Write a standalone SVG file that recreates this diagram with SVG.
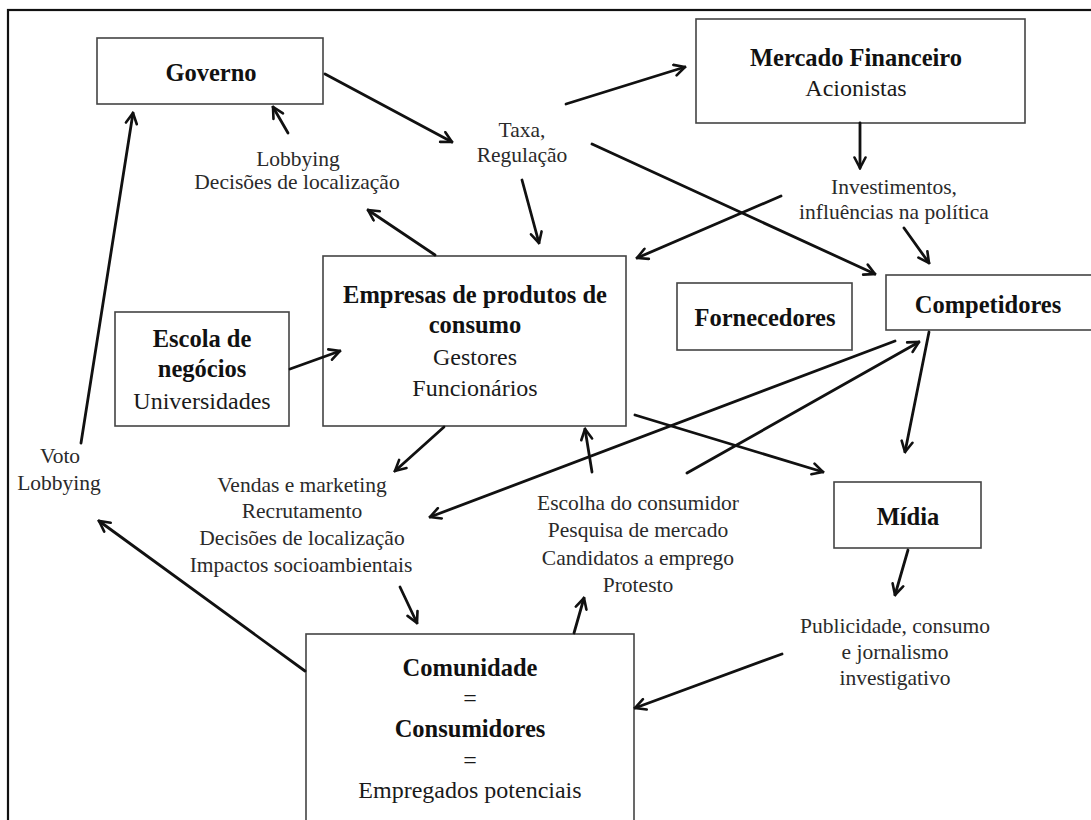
<svg xmlns="http://www.w3.org/2000/svg" width="1091" height="820" viewBox="0 0 1091 820">
  <style>
    .frame { fill: none; stroke: #111; stroke-width: 2.2; }
    .box { fill: #fff; stroke: #444; stroke-width: 1.6; }
    .t { font-family: "Liberation Serif", "Times New Roman", serif; text-anchor: middle; fill: #1a1a1a; }
    .b { font-weight: bold; font-size: 24.5px; fill: #111; }
    .r { font-size: 24px; }
    .lbl { font-size: 21.5px; fill: #2a2a2a; }
    .c { fill: none; stroke: #111; stroke-width: 2.8; stroke-linecap: round; marker-end: url(#ah); }
  </style>
  <defs>
    <marker id="ah" viewBox="0 0 14 14" refX="12.5" refY="7" markerWidth="14" markerHeight="14" markerUnits="userSpaceOnUse" orient="auto">
      <path d="M2,1.5 L12.5,7 L2,12.5" fill="none" stroke="#111" stroke-width="2.6" stroke-linecap="round" stroke-linejoin="miter"/>
    </marker>
  </defs>

  <rect width="1091" height="820" fill="#fff"/>
  <!-- outer frame, open to the right and bottom -->
  <rect class="frame" x="8" y="10" width="1100" height="830"/>

  <!-- nodes -->
  <g id="governo">
    <rect class="box" x="97" y="38" width="226" height="66"/>
    <text class="t b" x="211" y="81">Governo</text>
  </g>
  <g id="mercado-financeiro">
    <rect class="box" x="696" y="19" width="329" height="104"/>
    <text class="t b" x="856" y="66" font-size="25.5">Mercado Financeiro</text>
    <text class="t r" x="856" y="96">Acionistas</text>
  </g>
  <g id="empresas">
    <rect class="box" x="323" y="256" width="303" height="170"/>
    <text class="t b" x="475" y="303">Empresas de produtos de</text>
    <text class="t b" x="475" y="333">consumo</text>
    <text class="t r" x="475" y="365">Gestores</text>
    <text class="t r" x="475" y="396">Funcionários</text>
  </g>
  <g id="escola">
    <rect class="box" x="115" y="312" width="174" height="114"/>
    <text class="t b" x="202" y="347">Escola de</text>
    <text class="t b" x="202" y="377">negócios</text>
    <text class="t r" x="202" y="409">Universidades</text>
  </g>
  <g id="fornecedores">
    <rect class="box" x="677" y="283" width="175" height="67"/>
    <text class="t b" x="765" y="326">Fornecedores</text>
  </g>
  <g id="competidores">
    <rect class="box" x="886" y="275" width="220" height="55"/>
    <text class="t b" x="988" y="313">Competidores</text>
  </g>
  <g id="midia">
    <rect class="box" x="834" y="482" width="147" height="66"/>
    <text class="t b" x="908" y="525">Mídia</text>
  </g>
  <g id="comunidade">
    <rect class="box" x="306" y="634" width="328" height="200"/>
    <text class="t b" x="470" y="676">Comunidade</text>
    <text class="t r" x="470" y="706">=</text>
    <text class="t b" x="470" y="737">Consumidores</text>
    <text class="t r" x="470" y="768">=</text>
    <text class="t r" x="470" y="798">Empregados potenciais</text>
  </g>

  <!-- flow labels -->
  <g id="labels">
    <text class="t lbl" x="298" y="166">Lobbying</text>
    <text class="t lbl" x="297" y="189">Decisões de localização</text>
    <text class="t lbl" x="522" y="137">Taxa,</text>
    <text class="t lbl" x="522" y="162">Regulação</text>
    <text class="t lbl" x="894" y="194">Investimentos,</text>
    <text class="t lbl" x="894" y="219">influências na política</text>
    <text class="t lbl" x="60" y="463">Voto</text>
    <text class="t lbl" x="59" y="490">Lobbying</text>
    <text class="t lbl" x="302" y="492">Vendas e marketing</text>
    <text class="t lbl" x="302" y="518">Recrutamento</text>
    <text class="t lbl" x="302" y="545">Decisões de localização</text>
    <text class="t lbl" x="301" y="572">Impactos socioambientais</text>
    <text class="t lbl" x="638" y="510">Escolha do consumidor</text>
    <text class="t lbl" x="638" y="537">Pesquisa de mercado</text>
    <text class="t lbl" x="638" y="565">Candidatos a emprego</text>
    <text class="t lbl" x="638" y="592">Protesto</text>
    <text class="t lbl" x="895" y="633">Publicidade, consumo</text>
    <text class="t lbl" x="895" y="659">e jornalismo</text>
    <text class="t lbl" x="895" y="685">investigativo</text>
  </g>

  <!-- connectors -->
  <g id="connectors">
    <path class="c" d="M325,74 L452,142"/>
    <path class="c" d="M566,104 L685,67"/>
    <path class="c" d="M592,144 L875,274"/>
    <path class="c" d="M522,180 L539,243"/>
    <path class="c" d="M435,255 L368,210"/>
    <path class="c" d="M288,133 L273,107"/>
    <path class="c" d="M860,123 L860,168"/>
    <path class="c" d="M781,196 L637,258"/>
    <path class="c" d="M904,228 L929,263"/>
    <path class="c" d="M290,369 L340,351"/>
    <path class="c" d="M444,427 L395,471"/>
    <path class="c" d="M592,472 L585,429"/>
    <path class="c" d="M635,415 L823,472"/>
    <path class="c" d="M895,341 L430,517"/>
    <path class="c" d="M687,473 L919,342"/>
    <path class="c" d="M929,332 L905,452"/>
    <path class="c" d="M908,550 L895,595"/>
    <path class="c" d="M782,654 L635,708"/>
    <path class="c" d="M574,633 L584,598"/>
    <path class="c" d="M400,587 L417,623"/>
    <path class="c" d="M305,671 L99,521"/>
    <path class="c" d="M81,443 L133,113"/>
  </g>
</svg>
